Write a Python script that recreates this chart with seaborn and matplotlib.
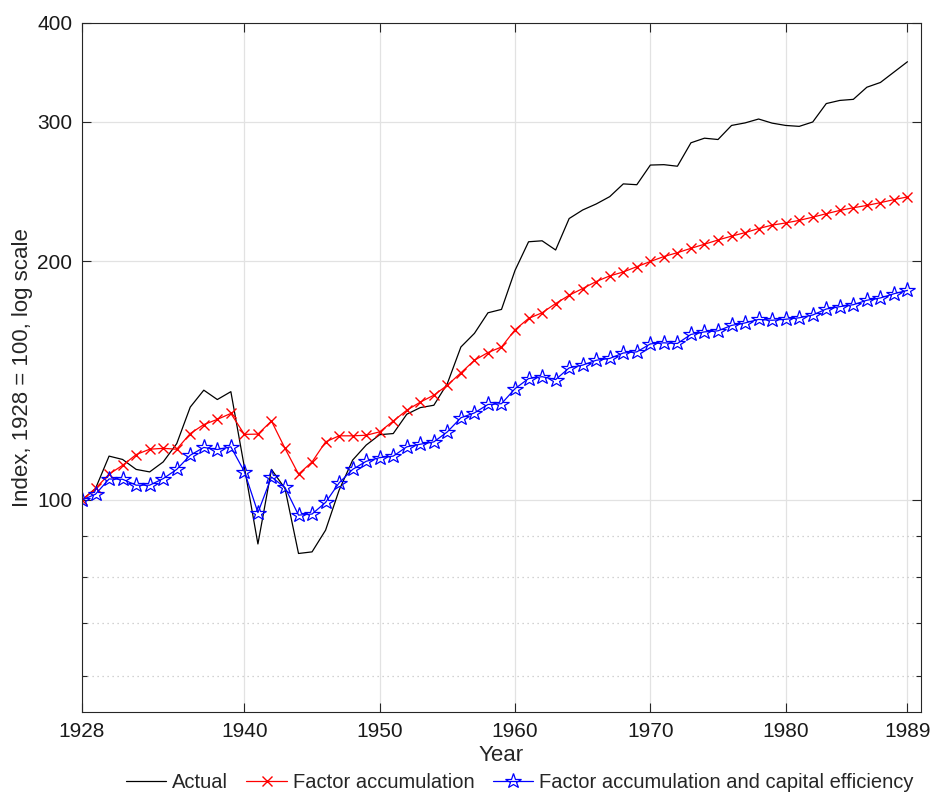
import numpy as np
import matplotlib
matplotlib.use("Agg")
import matplotlib.pyplot as plt
from matplotlib.ticker import FixedLocator, NullFormatter, FixedFormatter
import seaborn as sns

years = list(range(1928, 1990))

actual = [
    100.0, 103.4, 113.6, 112.5, 109.3, 108.5, 111.7, 117.8, 131.0, 137.6,
    133.9, 137.0, 110.0, 88.0, 109.3, 103.4, 85.6, 86.0, 91.6, 102.9,
    112.3, 117.3, 120.9, 121.3, 128.3, 130.8, 131.7, 140.3, 156.0, 162.3,
    172.3, 174.0, 194.9, 211.8, 212.4, 206.8, 226.6, 232.3, 236.4, 241.5,
    250.6, 250.0, 264.7, 265.0, 263.8, 282.4, 286.2, 285.1, 297.0, 299.2,
    302.6, 299.0, 297.0, 296.2, 300.0, 316.5, 319.4, 320.4, 331.9, 336.5,
    346.8, 357.4
]

factor = [
    100.0, 103.4, 107.8, 110.6, 114.1, 115.9, 116.2, 115.9, 121.3, 124.5,
    126.4, 128.6, 121.0, 121.1, 125.8, 116.2, 107.8, 111.7, 118.4, 120.5,
    120.5, 120.7, 121.9, 125.8, 129.8, 132.9, 135.6, 139.6, 144.7, 150.1,
    153.5, 156.0, 164.0, 169.5, 172.3, 177.0, 181.3, 184.9, 188.7, 191.8,
    194.0, 197.0, 200.0, 202.9, 205.2, 207.8, 210.3, 212.9, 215.3, 217.5,
    220.1, 222.3, 223.7, 225.4, 227.5, 229.8, 232.0, 233.8, 235.4, 237.3,
    239.4, 241.3
]

factor_eff = [
    100.0, 101.7, 106.3, 106.2, 104.4, 104.4, 106.4, 109.3, 113.9, 116.5,
    115.8, 116.7, 108.6, 96.4, 106.9, 103.7, 95.7, 96.0, 99.3, 105.1,
    109.3, 111.9, 113.1, 113.6, 116.7, 117.6, 118.4, 121.9, 127.0, 128.8,
    132.0, 132.3, 138.2, 142.3, 143.1, 141.9, 146.8, 148.0, 150.1, 150.9,
    153.3, 153.8, 157.4, 157.9, 157.6, 161.8, 163.0, 163.5, 166.1, 167.3,
    169.0, 168.6, 169.1, 169.8, 171.2, 174.2, 175.4, 176.4, 178.7, 179.9,
    182.1, 183.9
]

x_ticks = [1928, 1940, 1950, 1960, 1970, 1980, 1989]
y_ticks = [100, 200, 300, 400]
y_minor = [60, 70, 80, 90]

sns.set_style("ticks")
plt.rcParams["font.family"] = ["Liberation Sans", "DejaVu Sans"]
plt.rcParams["font.size"] = 15

fig = plt.figure(figsize=(9.33, 7.99), dpi=100)
ax = fig.add_axes([82 / 933, 1 - 712 / 799, (921 - 82) / 933, (712 - 23) / 799])

# plain lines first, markers set on the artists afterwards
sns.lineplot(x=years, y=actual, color="black", linewidth=0.9,
             label="Actual", ax=ax)
sns.lineplot(x=years, y=factor, color="red", linewidth=0.9,
             label="Factor accumulation", ax=ax)
sns.lineplot(x=years, y=factor_eff, color="blue", linewidth=0.9,
             label="Factor accumulation and capital efficiency", ax=ax)

l_red = ax.lines[1]
l_red.set_linestyle("-")
l_red.set_marker("x")
l_red.set_markersize(7.5)
l_red.set_markeredgewidth(1.0)
l_red.set_markeredgecolor("red")

l_blue = ax.lines[2]
l_blue.set_linestyle("-")
l_blue.set_marker("*")
l_blue.set_markersize(11.5)
l_blue.set_markerfacecolor("none")
l_blue.set_markeredgecolor("blue")
l_blue.set_markeredgewidth(0.9)

ax.lines[0].set_linestyle("-")

ax.set_yscale("log")
ax.set_xlim(1928, 1990)
ax.set_ylim(54, 400)

ax.xaxis.set_major_locator(FixedLocator(x_ticks))
ax.yaxis.set_major_locator(FixedLocator(y_ticks))
ax.yaxis.set_major_formatter(FixedFormatter([str(v) for v in y_ticks]))
ax.yaxis.set_minor_locator(FixedLocator(y_minor))
ax.yaxis.set_minor_formatter(NullFormatter())
ax.xaxis.set_minor_locator(FixedLocator([]))

ax.grid(True, which="major", color="#e2e2e2", linewidth=0.9, linestyle="-")
ax.grid(True, which="minor", axis="y", color="#c4c4c4", linewidth=0.9,
        linestyle=(0, (1, 3)))
ax.set_axisbelow(True)

for s in ax.spines.values():
    s.set_visible(True)
    s.set_color("#262626")
    s.set_linewidth(0.8)

ax.tick_params(which="both", direction="in", top=True, right=True,
               colors="#262626", labelcolor="#1a1a1a", labelsize=15)
ax.tick_params(which="major", length=6.5, width=0.8, pad=7)
ax.tick_params(which="minor", length=3.5, width=0.8)

ax.set_xlabel("Year", fontsize=16, labelpad=3)
ax.set_ylabel("Index, 1928 = 100, log scale", fontsize=16, labelpad=3)

ax.get_legend().remove()
handles = ax.lines[:3]
labels = ["Actual", "Factor accumulation",
          "Factor accumulation and capital efficiency"]
fig.legend(handles, labels, loc="lower center", ncol=3, frameon=False,
           bbox_to_anchor=(0.557, -0.014), fontsize=14.5, handlelength=2.0,
           handletextpad=0.3, columnspacing=0.9)

fig.savefig("out.png", dpi=100)
